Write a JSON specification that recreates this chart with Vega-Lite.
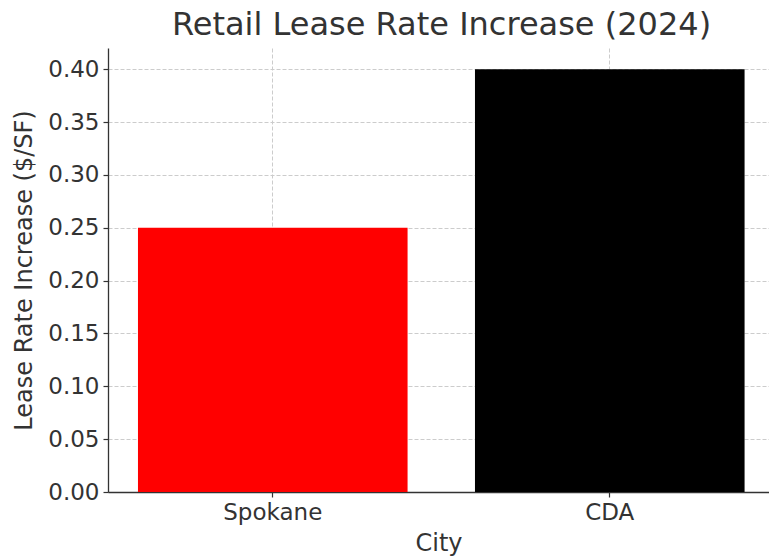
{
  "$schema": "https://vega.github.io/schema/vega-lite/v6.json",
  "width": 661,
  "height": 444,
  "autosize": {"type": "none"},
  "padding": {"left": 108, "top": 48, "right": 0, "bottom": 65},
  "background": "white",
  "config": {
    "font": "DejaVu Sans",
    "view": {"stroke": null},
    "axis": {
      "labelFont": "DejaVu Sans",
      "titleFont": "DejaVu Sans",
      "labelFontSize": 23,
      "titleFontSize": 24,
      "labelColor": "#333333",
      "titleColor": "#333333",
      "titleFontWeight": "normal",
      "domainColor": "#333333",
      "domainWidth": 1.3,
      "tickColor": "#333333",
      "tickSize": 5,
      "tickWidth": 1.2,
      "gridColor": "#cccccc",
      "gridDash": [4, 2],
      "gridWidth": 1,
      "zindex": 1
    }
  },
  "title": {
    "text": "Retail Lease Rate Increase (2024)",
    "font": "DejaVu Sans",
    "fontSize": 32,
    "fontWeight": "normal",
    "color": "#333333",
    "anchor": "middle",
    "frame": "group",
    "baseline": "bottom",
    "offset": 10,
    "dx": 3,
    "dy": 36
  },
  "data": {
    "values": [
      {"City": "Spokane", "Increase": 0.25},
      {"City": "CDA", "Increase": 0.40}
    ]
  },
  "mark": {"type": "bar"},
  "encoding": {
    "x": {
      "field": "City",
      "type": "nominal",
      "sort": null,
      "scale": {"paddingInner": 0.2, "paddingOuter": 0.0807, "align": 0.551},
      "axis": {
        "title": "City",
        "labelAngle": 0,
        "labelPadding": 4,
        "titlePadding": 7,
        "grid": true,
        "bandPosition": 0.5
      }
    },
    "y": {
      "field": "Increase",
      "type": "quantitative",
      "scale": {"domain": [0, 0.42], "nice": false, "zero": true},
      "axis": {
        "title": "Lease Rate Increase ($/SF)",
        "values": [0, 0.05, 0.1, 0.15, 0.2, 0.25, 0.3, 0.35, 0.4],
        "format": ".2f",
        "labelPadding": 4,
        "titlePadding": 11,
        "grid": true
      }
    },
    "color": {
      "field": "City",
      "type": "nominal",
      "scale": {"domain": ["Spokane", "CDA"], "range": ["#ff0000", "#000000"]},
      "legend": null
    }
  }
}
